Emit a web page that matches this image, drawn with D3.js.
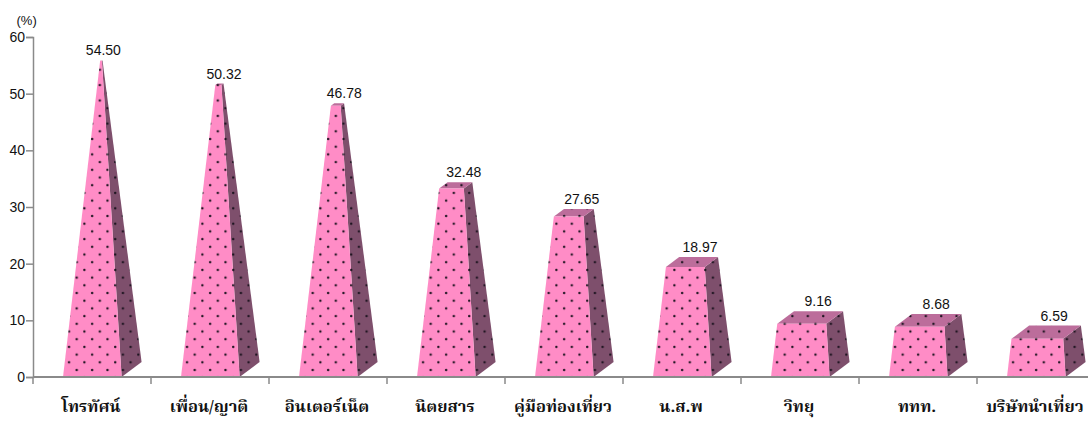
<!DOCTYPE html>
<html><head><meta charset="utf-8">
<script src="https://cdnjs.cloudflare.com/ajax/libs/d3/7.8.5/d3.min.js"></script>
<style>html,body{margin:0;background:#fff;overflow:hidden}svg{display:block}</style></head><body>
<svg id="c" width="1088" height="421"></svg>
<script>
const categories=["โทรทัศน์","เพื่อน/ญาติ","อินเตอร์เน็ต","นิตยสาร","คู่มือท่องเที่ยว","น.ส.พ","วิทยุ","ททท.","บริษัทนำเที่ยว"];
const values=[54.50,50.32,46.78,32.48,27.65,18.97,9.16,8.68,6.59];
const valueLabels=["54.50","50.32","46.78","32.48","27.65","18.97","9.16","8.68","6.59"];
const yTicks=[0,10,20,30,40,50,60];
const svg=d3.select("#c");
const y=d3.scaleLinear().domain([0,60]).range([377,37]);
const x=d3.scaleBand().domain(categories).range([33,1095]).padding(0);
const axisCol="#8a8a8a";
const sans="'Liberation Sans',Arial,sans-serif";
const defs=svg.append("defs");
const apexV=56.2, baseW=58.6, depthX=20, depthY=15;
function pat(id,bg,off){
  const p=defs.append("pattern").attr("id",id).attr("patternUnits","userSpaceOnUse").attr("width",15.4).attr("height",15.4)
    .attr("patternTransform",`translate(${off},${370-3.85})`);
  p.append("rect").attr("width",15.4).attr("height",15.4).attr("fill",bg);
  p.append("circle").attr("cx",13.7).attr("cy",3.85).attr("r",1.2).attr("fill","#1d1420");
  p.append("circle").attr("cx",6).attr("cy",11.55).attr("r",1.2).attr("fill","#1d1420");
}
const g=svg.append("g");
categories.forEach((c,i)=>{
  const cx=x(c)+x.bandwidth()/2;
  const xl=cx-29, xr=xl+baseW, b=y(0);
  const t=Math.min(values[i]/apexV,0.985);
  const Ax=xl+(baseW+depthX)/2-1, Ay=b-326;
  const P=(px,py)=>[px+t*(Ax-px),py+t*(Ay-py)];
  const a=[xl,b],bb=[xr,b],cc=[xr+depthX,b-depthY],dd=[xl+depthX,b-depthY];
  const a2=P(...a),b2=P(...bb),c2=P(...cc),d2=P(...dd);
  pat("f"+i,"#ff8cc6",xl);pat("s"+i,"#7e4f6c",xl);pat("t"+i,"#bc6d9b",xl);
  const pts=q=>q.map(p=>p.join(",")).join(" ");
  g.append("polygon").attr("points",pts([bb,cc,c2,b2])).attr("fill",`url(#s${i})`);
  g.append("polygon").attr("points",pts([a2,b2,c2,d2])).attr("fill",`url(#t${i})`);
  g.append("polygon").attr("points",pts([a,bb,b2,a2])).attr("fill",`url(#f${i})`);
  svg.append("text").attr("x",(a2[0]+c2[0])/2+Math.min(7,35*(1-t))+1).attr("y",c2[1]-5).attr("text-anchor","middle")
    .attr("font-family",sans).attr("font-size",14).attr("fill","#111").text(valueLabels[i]);
  svg.append("text").attr("x",cx-1).attr("y",412).attr("text-anchor","middle")
    .attr("font-family","'Noto Serif Thai','Norasi','Garuda','Loma','Liberation Serif','DejaVu Serif',serif").attr("font-weight","bold").attr("font-size",16.5).attr("fill","#111").text(c);
});
const axY=svg.append("g").attr("transform","translate(33,0)").call(d3.axisLeft(y).tickValues(yTicks).tickSize(7).tickPadding(1).tickFormat(d3.format("d")));
axY.selectAll("path,line").attr("stroke",axisCol).attr("stroke-width",1.5);
axY.selectAll("text").attr("font-family",sans).attr("font-size",14).attr("fill","#111");
const axX=svg.append("g").attr("transform","translate(0,377)");
const edges=categories.map(c=>x(c));
axX.append("line").attr("x1",33).attr("x2",1088).attr("stroke",axisCol).attr("stroke-width",2);
axX.selectAll(".t").data(edges).enter().append("line").attr("x1",d=>d).attr("x2",d=>d).attr("y1",0).attr("y2",7).attr("stroke",axisCol).attr("stroke-width",1.5);
svg.append("text").attr("x",16.5).attr("y",24.5).attr("font-family",sans).attr("font-size",13).attr("fill","#111").text("(%)");
</script></body></html>
